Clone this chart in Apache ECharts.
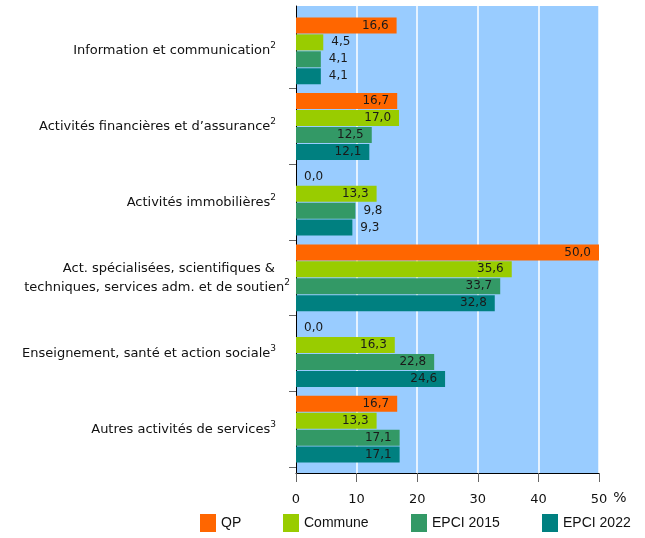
<!DOCTYPE html>
<html><head><meta charset="utf-8">
<script src="https://cdn.jsdelivr.net/npm/echarts@6/dist/echarts.min.js"></script>
<style>html,body{margin:0;padding:0;background:#fff}#c{width:645px;height:538px}</style>
</head><body><div id="c"></div>
<script>
const categories = [
  "Information et communication",
  "Activités financières et d’assurance",
  "Activités immobilières",
  "Act. spécialisées, scientifiques &\ntechniques, services adm. et de soutien",
  "Enseignement, santé et action sociale",
  "Autres activités de services"
];
const notes = ["2", "2", "2", "2", "3", "3"];
const seriesNames = ["QP", "Commune", "EPCI 2015", "EPCI 2022"];
const qp       = [16.6, 16.7, 0.0, 50.0, 0.0, 16.7];
const commune  = [4.5, 17.0, 13.3, 35.6, 16.3, 13.3];
const epci2015 = [4.1, 12.5, 9.8, 33.7, 22.8, 17.1];
const epci2022 = [4.1, 12.1, 9.3, 32.8, 24.6, 17.1];
const xTicks = [0, 10, 20, 30, 40, 50];
const colors = ["#FF6600", "#99CC00", "#339966", "#008080"];

const allValues = [qp, commune, epci2015, epci2022];
const fmt = v => v.toFixed(1).replace('.', ',');

const series = allValues.map((vals, i) => ({
  name: seriesNames[i],
  type: 'bar',
  xAxisIndex: 0,
  yAxisIndex: 0,
  barWidth: 16,
  barGap: '6%',
  itemStyle: { color: colors[i] },
  data: vals.map(v => ({
    value: v,
    label: { position: v >= 10 ? 'insideRight' : 'right', distance: 8 }
  })),
  label: {
    show: true,
    formatter: p => fmt(p.value),
    fontFamily: 'DejaVu Sans',
    fontSize: 12,
    color: '#1a1a1a'
  }
}));

const legends = seriesNames.map((n, i) => ({
  data: [n],
  left: [200, 283, 411, 542][i],
  top: 514,
  padding: 0,
  itemWidth: 16,
  itemHeight: 18,
  itemGap: 0,
  textStyle: { fontFamily: 'Liberation Sans', fontSize: 14, color: '#111' },
  icon: 'rect',
  selectedMode: false
}));

function catLabel(value, index) {
  const lines = value.split('\n');
  if (lines.length === 1) {
    return '{t|' + lines[0] + '}{supP|' + notes[index] + '}';
  }
  return '{tP|' + lines[0] + '}\n{t|' + lines[1] + '}{sup|' + notes[index] + '}';
}

const txt = { fontFamily: 'DejaVu Sans', fontSize: 13, color: '#111', lineHeight: 19 };
const sup = { fontFamily: 'DejaVu Sans', fontSize: 9, color: '#111', verticalAlign: 'top', lineHeight: 19 };

const chart = echarts.init(document.getElementById('c'), null, { renderer: 'canvas' });
chart.setOption({
  animation: false,
  backgroundColor: '#fff',
  legend: legends,
  grid: [
    { left: 296, right: 46, top: 13, bottom: 71, show: false },
    { left: 296, right: 46, top: 6, bottom: 65, show: true, backgroundColor: '#99CCFF', borderWidth: 0, z: 0 }
  ],
  xAxis: [
    { gridIndex: 0, type: 'value', min: xTicks[0], max: xTicks[xTicks.length - 1], interval: 10, show: false, splitLine: { show: false } },
    {
      gridIndex: 1, type: 'value', min: xTicks[0], max: xTicks[xTicks.length - 1], interval: 10,
      name: '%', nameLocation: 'end', nameGap: 9,
      nameTextStyle: { fontFamily: 'DejaVu Sans', fontSize: 14, color: '#111', verticalAlign: 'top', padding: [18, 0, 0, 0] },
      axisLine: { show: true, lineStyle: { color: '#000', width: 1 } },
      axisTick: { show: true, length: 9, lineStyle: { color: '#666' } },
      axisLabel: { fontFamily: 'DejaVu Sans', fontSize: 13, color: '#111', margin: 20 },
      splitLine: { show: true, lineStyle: { color: '#fff', width: 1.5 } }
    }
  ],
  yAxis: [
    {
      gridIndex: 0, type: 'category', inverse: true,
      data: categories,
      axisLine: { show: false },
      axisTick: { show: true, length: 7, interval: (i) => i !== 0, lineStyle: { color: '#666' } },
      axisLabel: {
        margin: 6,
        align: 'right',
        formatter: catLabel,
        fontFamily: 'DejaVu Sans', fontSize: 13, color: '#111', lineHeight: 19,
        rich: {
          t: txt,
          tP: Object.assign({}, txt, { padding: [0, 15, 0, 0] }),
          sup: sup,
          supP: Object.assign({}, sup, { padding: [0, 14, 0, 0] })
        }
      },
      splitLine: { show: false }
    },
    {
      gridIndex: 1, type: 'value', min: 0, max: 1,
      axisLine: { show: true, lineStyle: { color: '#000', width: 1 } },
      axisTick: { show: false }, axisLabel: { show: false }, splitLine: { show: false }
    }
  ],
  series: series
});
</script></body></html>
